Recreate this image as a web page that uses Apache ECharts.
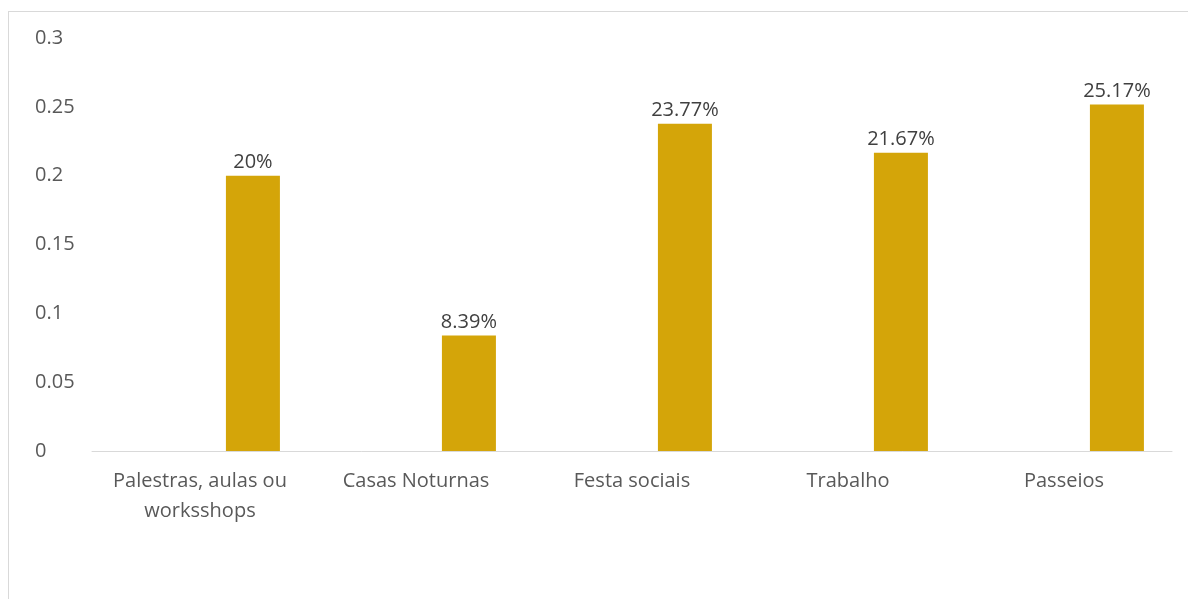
<!DOCTYPE html>
<html>
<head>
<meta charset="utf-8">
<script src="https://cdn.jsdelivr.net/npm/echarts@6/dist/echarts.min.js"></script>
<style>
html,body{margin:0;padding:0;background:#fff;}
#frame{position:absolute;left:8px;top:11px;width:1190px;height:600px;border-left:1px solid #d9d9d9;border-top:1px solid #d9d9d9;}
#chart{position:absolute;left:0;top:0;width:1188px;height:599px;}
</style>
</head>
<body>
<div id="frame"></div>
<div id="chart"></div>
<script>
var categories = ["Palestras, aulas ou\nworksshops", "Casas Noturnas", "Festa sociais", "Trabalho", "Passeios"];
var blankSeries = [null, null, null, null, null];
var values = [0.20, 0.0839, 0.2377, 0.2167, 0.2517];
var yTicks = { min: 0, max: 0.3, interval: 0.05 };

var chart = echarts.init(document.getElementById('chart'));
var font = '"Open Sans", sans-serif';
chart.setOption({
  animation: false,
  backgroundColor: 'transparent',
  grid: { left: 92, right: 16, top: 38, bottom: 148, containLabel: false },
  xAxis: {
    type: 'category',
    data: categories,
    axisTick: { show: false },
    axisLine: { lineStyle: { color: '#d9d9d9', width: 1 } },
    axisLabel: { color: '#595959', fontSize: 20, fontFamily: font, margin: 15, lineHeight: 30, interval: 0 }
  },
  yAxis: {
    type: 'value',
    min: yTicks.min, max: yTicks.max, interval: yTicks.interval,
    splitLine: { show: false },
    axisLine: { show: false },
    axisTick: { show: false },
    axisLabel: { color: '#595959', fontSize: 20, fontFamily: font, align: 'left', margin: 57 }
  },
  series: [
    { type: 'bar', data: blankSeries, barWidth: 54, barGap: '96%', itemStyle: { color: 'transparent' } },
    {
      type: 'bar', data: values, barWidth: 54, barGap: '96%',
      itemStyle: { color: '#D4A509' },
      label: {
        show: true, position: 'top', distance: 3,
        color: '#404040', fontSize: 20, fontFamily: font,
        formatter: function (p) { return parseFloat((p.value * 100).toFixed(2)) + '%'; }
      }
    }
  ]
});
</script>
</body>
</html>
